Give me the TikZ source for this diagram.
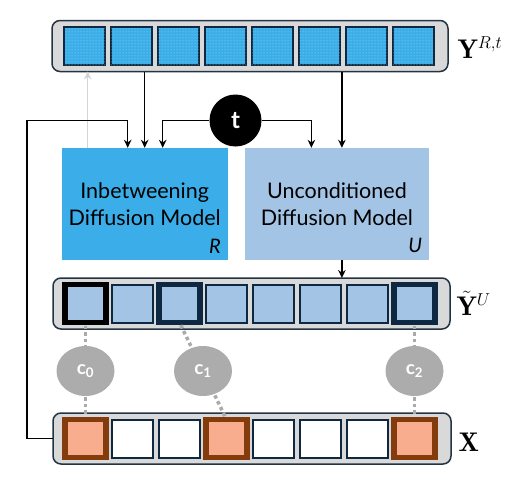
\documentclass[tikz,border=0pt]{standalone}
\usepackage{fontspec}
\setsansfont{Lato}
\usetikzlibrary{positioning,arrows.meta,calc,shapes.geometric,patterns}
\definecolor{skyblue}{RGB}{59,174,233}
\definecolor{paleblue}{RGB}{164,196,229}
\definecolor{navy}{RGB}{14,40,65}
\definecolor{salmon}{RGB}{247,173,142}
\definecolor{rust}{RGB}{132,60,12}
\definecolor{bargray}{RGB}{217,217,217}
\definecolor{bardraw}{RGB}{34,52,68}
\definecolor{cgray}{RGB}{172,172,172}
\definecolor{dotgray}{RGB}{170,170,170}
\definecolor{fadegray}{RGB}{212,212,212}
\tikzset{
	>={Stealth[length=8pt, width=7.5pt]}
}

\begin{document}
\begin{tikzpicture}[
x = 1pt, y = -1pt,
node distance = 6pt,
every node/.style = {
	font = \sffamily
},
bar/.style = {
	draw = bardraw,
	fill = bargray,
	line width = 1.5pt,
	rounded corners = 8pt,
	outer sep = 0pt,
	minimum height = 51pt
},
cell/.style = {
	draw = navy,
	line width = 2pt,
	inner sep = 0pt,
	outer sep = 0pt,
	minimum width = 41pt,
	minimum height = 38pt
},
ycell/.style = {
	cell,
	fill = skyblue,
	postaction = {pattern = dots, pattern color = skyblue!45!white}
},
ucell/.style = {
	cell,
	fill = paleblue
},
xcell/.style = {
	cell,
	fill = white
},
key/.style = {
	line width = 5.5pt
},
model/.style = {
	align = center,
	inner sep = 0pt,
	minimum height = 112pt,
	font = \sffamily\fontsize{21.5}{27}\selectfont
},
tag/.style = {
	anchor = south east,
	inner sep = 7pt,
	font = \sffamily\itshape\fontsize{20}{22}\selectfont
},
cnode/.style = {
	ellipse,
	fill = cgray,
	text = white,
	inner sep = 0pt,
	minimum width = 58pt,
	minimum height = 50pt,
	font = \sffamily\bfseries\fontsize{19}{22}\selectfont
},
link/.style = {
	draw = dotgray,
	line width = 3.5pt,
	dash pattern = on 3.5pt off 3pt,
	shorten <= 3pt,
	shorten >= 3pt
},
arrow/.style = {
	line width = 1.4pt
},
label/.style = {
	anchor = base west,
	font = \fontsize{27}{30}\selectfont
}
]
\useasboundingbox (0,0) rectangle (512,479);

% sequences
\node (ybar) [bar, minimum width = 396pt] at (250,46) {};
\node (y1) [ycell, right = 12pt of ybar.west] {};
\node (y2) [ycell, right = of y1] {};
\node (y3) [ycell, right = of y2] {};
\node (y4) [ycell, right = of y3] {};
\node (y5) [ycell, right = of y4] {};
\node (y6) [ycell, right = of y5] {};
\node (y7) [ycell, right = of y6] {};
\node (y8) [ycell, right = of y7] {};

\node (ubar) [bar, minimum width = 397pt] at (251.5,303.5) {};
\node (u1) [ucell, key, draw = black, right = 12pt of ubar.west] {};
\node (u2) [ucell, right = of u1] {};
\node (u3) [ucell, key, right = of u2] {};
\node (u4) [ucell, right = of u3] {};
\node (u5) [ucell, right = of u4] {};
\node (u6) [ucell, right = of u5] {};
\node (u7) [ucell, right = of u6] {};
\node (u8) [ucell, key, right = of u7] {};

\node (xbar) [bar, minimum width = 398pt] at (252,438.5) {};
\node (x1) [xcell, key, fill = salmon, draw = rust, right = 12pt of xbar.west] {};
\node (x2) [xcell, right = of x1] {};
\node (x3) [xcell, right = of x2] {};
\node (x4) [xcell, key, fill = salmon, draw = rust, right = of x3] {};
\node (x5) [xcell, right = of x4] {};
\node (x6) [xcell, right = of x5] {};
\node (x7) [xcell, right = of x6] {};
\node (x8) [xcell, key, fill = salmon, draw = rust, right = of x7] {};

\node (ylabel) [label] at ([xshift=6pt, yshift=-12pt]ybar.east) {$\mathbf{Y}^{R,t}$};
\node (ulabel) [label] at ([xshift=3pt, yshift=-11.5pt]ubar.east) {$\tilde{\mathbf{Y}}^{U}$};
\node (xlabel) [label] at ([xshift=4pt, yshift=-13pt]xbar.east) {$\mathbf{X}$};

% models
\node (rmodel) [model, fill = skyblue, minimum width = 166pt] at (144.7,204) {Inbetweening\\ Diffusion Model};
\node (umodel) [model, fill = paleblue, minimum width = 184.4pt, right = 16.6pt of rmodel] {Unconditioned\\ Diffusion Model};
\node (rtag) [tag] at (rmodel.south east) {R};
\node (utag) [tag] at (umodel.south east) {U};

\node (tc) [circle, fill = black, text = white, minimum size = 52pt, inner sep = 0pt, font = \sffamily\bfseries\fontsize{24}{26}\selectfont] at (235.5,120.5) {t};

\coordinate (rout) at ([xshift=-57pt]rmodel.north);
\coordinate (rin1) at ([xshift=-17pt]rmodel.north);
\coordinate (rin3) at ([xshift=18pt]rmodel.north);
\coordinate (uin1) at ([xshift=-25.5pt]umodel.north);
\coordinate (uin2) at ([xshift=5pt]umodel.north);

% connectors
\draw[->, arrow, draw = fadegray] (rout) -- (ybar.south -| rout);
\draw[->, arrow] (xbar.west) -- ++(-26,0) |- (rin1 |- tc) -- (rin1);
\draw[->, arrow] (ybar.south -| rmodel.north) -- (rmodel.north);
\draw[->, arrow] (tc.west) -| (rin3);
\draw[->, arrow] (tc.east) -| (uin1);
\draw[->, arrow] (ybar.south -| uin2) -- (uin2);
\draw[->, arrow] (umodel.south -| uin2) -- (ubar.north -| uin2);

% conditions
\draw[link] (u1.south) -- (x1.north);
\draw[link] (u3.south) -- (x4.north);
\draw[link] (u8.south) -- (x8.north);
\node (c0) [cnode] at ($(u1.south)!0.5!(x1.north)$) {c\textsubscript{0}};
\node (c1) [cnode] at ($(u3.south)!0.5!(x4.north)$) {c\textsubscript{1}};
\node (c2) [cnode] at ($(u8.south)!0.5!(x8.north)$) {c\textsubscript{2}};

\end{tikzpicture}
\end{document}
